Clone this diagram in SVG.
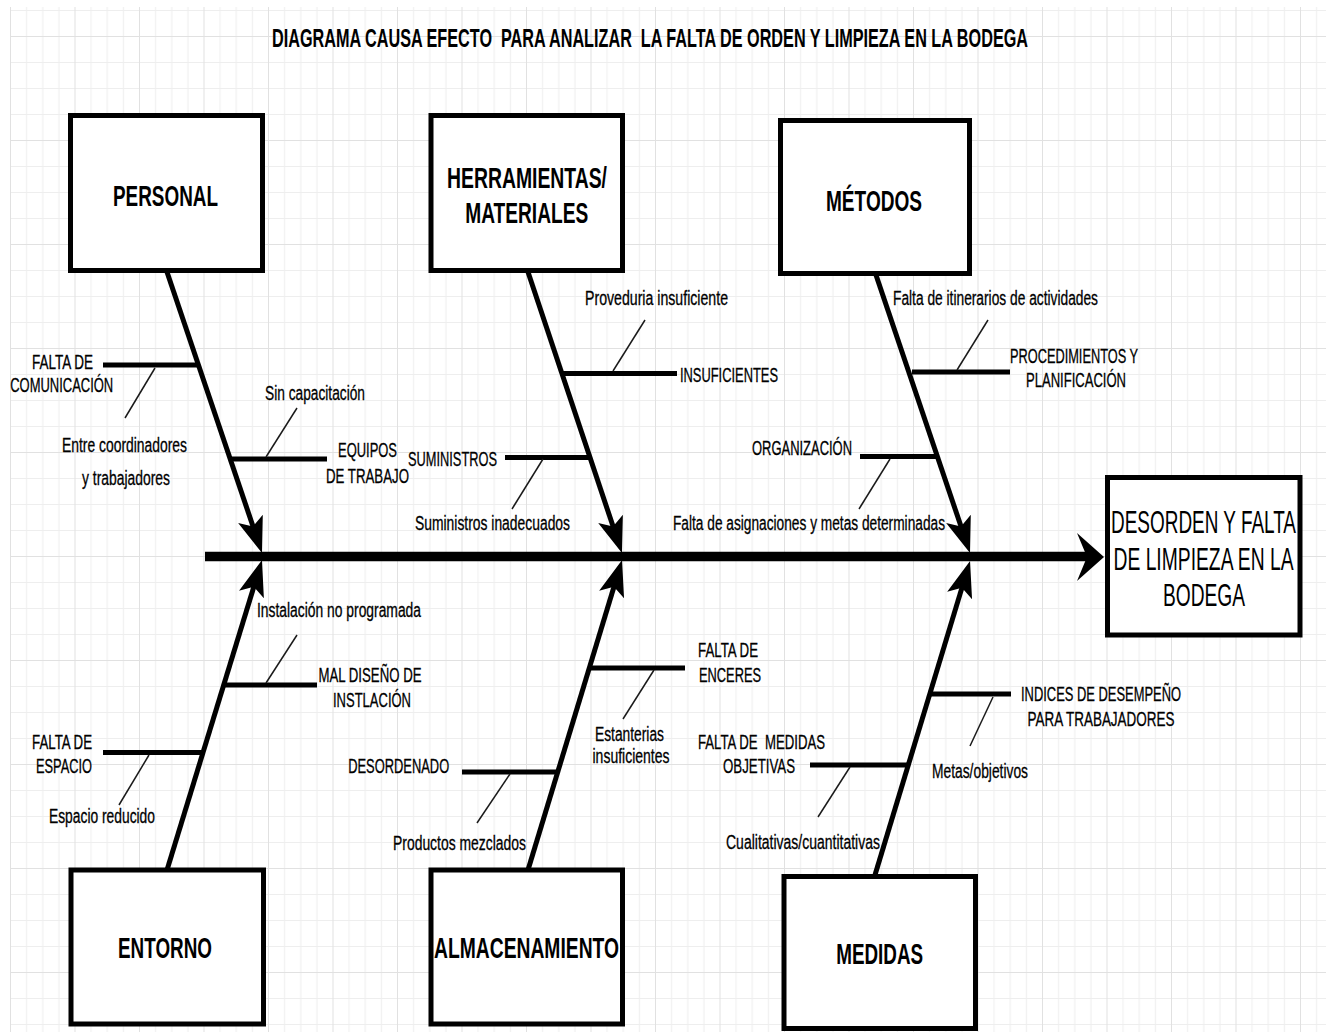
<svg xmlns="http://www.w3.org/2000/svg" width="1326" height="1032" viewBox="0 0 1326 1032">
  <style>
    .box { fill: #ffffff; stroke: #000000; stroke-width: 5; }
    .bone { fill: none; stroke: #000000; stroke-width: 5; }
    .branch { fill: none; stroke: #000000; stroke-width: 5; }
    .tick { fill: none; stroke: #1a1a1a; stroke-width: 1.5; }
    text { font-family: "Liberation Sans", Arial, sans-serif; fill: #000000; white-space: pre; }
    .lbl { font-size: 20px; stroke: #000000; stroke-width: 0.3; }
    .cat { font-size: 29px; font-weight: bold; text-anchor: middle; }
    .eff { font-size: 31px; text-anchor: middle; }
    .mid { text-anchor: middle; }
  </style>
  <defs>
    <pattern id="grid" patternUnits="userSpaceOnUse" x="10" y="36" width="64.5" height="104">
      <path d="M16.6,0V104M32.75,0V104M48.9,0V104M0,26.5H64.5M0,52.5H64.5M0,78.5H64.5" stroke="#eeeeee" stroke-width="1" fill="none"/>
      <path d="M0.5,0V104M0,0.5H64.5" stroke="#e1e1e1" stroke-width="1" fill="none"/>
    </pattern>
    <marker id="head" markerUnits="userSpaceOnUse" overflow="visible" orient="auto" refX="-15" refY="0" markerWidth="40" markerHeight="30" viewBox="-38 -15 40 30">
      <path d="M0,0 L-36,-13 L-28,0 L-36,13 Z" fill="#000000"/>
    </marker>
  </defs>

  <!-- background and grid paper -->
  <rect width="1326" height="1032" fill="#ffffff"/>
  <rect x="10" y="7" width="1316" height="1025" fill="url(#grid)"/>

  <!-- title -->
  <text id="title" x="272" y="46.5" font-size="25" font-weight="bold" textLength="756" lengthAdjust="spacingAndGlyphs" xml:space="preserve">DIAGRAMA CAUSA EFECTO  PARA ANALIZAR  LA FALTA DE ORDEN Y LIMPIEZA EN LA BODEGA</text>

  <!-- spine, bones, branches -->
  <g id="connectors">
    <line x1="205" y1="556.5" x2="1090" y2="556.5" stroke="#000000" stroke-width="9.5"/>
    <path d="M1104,557 L1077,533 L1087,557 L1077,581 Z" fill="#000000"/>

    <line class="bone" x1="167" y1="272" x2="257.2" y2="538.8" marker-end="url(#head)"/>
    <line class="bone" x1="528" y1="272" x2="617.2" y2="538.8" marker-end="url(#head)"/>
    <line class="bone" x1="876" y1="275" x2="965.2" y2="538.8" marker-end="url(#head)"/>
    <line class="bone" x1="167" y1="870" x2="257.6" y2="574.4" marker-end="url(#head)"/>
    <line class="bone" x1="528" y1="870" x2="617.7" y2="574.4" marker-end="url(#head)"/>
    <line class="bone" x1="875" y1="875" x2="965.7" y2="575.4" marker-end="url(#head)"/>

    <!-- PERSONAL branches -->
    <line class="branch" x1="103" y1="365" x2="198" y2="365"/>
    <line class="tick" x1="155" y1="368" x2="125" y2="418"/>
    <line class="branch" x1="231" y1="459" x2="327" y2="459"/>
    <line class="tick" x1="266" y1="457" x2="297" y2="408"/>

    <!-- HERRAMIENTAS branches -->
    <line class="branch" x1="563" y1="373.5" x2="677" y2="373.5"/>
    <line class="tick" x1="613" y1="371" x2="645" y2="320"/>
    <line class="branch" x1="505" y1="457.5" x2="589" y2="457.5"/>
    <line class="tick" x1="543" y1="459" x2="512" y2="509"/>

    <!-- METODOS branches -->
    <line class="branch" x1="912" y1="372" x2="1010" y2="372"/>
    <line class="tick" x1="957" y1="370" x2="988" y2="320"/>
    <line class="branch" x1="860" y1="456.5" x2="936" y2="456.5"/>
    <line class="tick" x1="890" y1="459" x2="859" y2="509"/>

    <!-- ENTORNO branches -->
    <line class="branch" x1="225" y1="685" x2="317" y2="685"/>
    <line class="tick" x1="266" y1="683" x2="297" y2="635"/>
    <line class="branch" x1="103" y1="752.5" x2="202" y2="752.5"/>
    <line class="tick" x1="149" y1="755" x2="119" y2="805"/>

    <!-- ALMACENAMIENTO branches -->
    <line class="branch" x1="589" y1="668" x2="685" y2="668"/>
    <line class="tick" x1="654" y1="670" x2="623" y2="719"/>
    <line class="branch" x1="462" y1="772" x2="558" y2="772"/>
    <line class="tick" x1="510" y1="774" x2="477" y2="823"/>

    <!-- MEDIDAS branches -->
    <line class="branch" x1="931" y1="694" x2="1011" y2="694"/>
    <line class="tick" x1="993" y1="697" x2="970" y2="746"/>
    <line class="branch" x1="810" y1="765" x2="908" y2="765"/>
    <line class="tick" x1="850" y1="767" x2="818" y2="817"/>
  </g>

  <!-- category boxes -->
  <g id="personal">
    <rect class="box" x="70.5" y="115.5" width="192" height="155"/>
    <text class="cat" x="165.5" y="206" textLength="105" lengthAdjust="spacingAndGlyphs">PERSONAL</text>
  </g>
  <g id="herramientas">
    <rect class="box" x="431" y="115.5" width="191.5" height="155"/>
    <text class="cat" x="527" y="187.7" textLength="160" lengthAdjust="spacingAndGlyphs">HERRAMIENTAS/</text>
    <text class="cat" x="526.7" y="222.7" textLength="123" lengthAdjust="spacingAndGlyphs">MATERIALES</text>
  </g>
  <g id="metodos">
    <rect class="box" x="780.5" y="120.5" width="189" height="153"/>
    <text class="cat" x="874" y="211" textLength="96" lengthAdjust="spacingAndGlyphs">MÉTODOS</text>
  </g>
  <g id="entorno">
    <rect class="box" x="71" y="870" width="192.5" height="154"/>
    <text class="cat" x="165" y="958" textLength="94" lengthAdjust="spacingAndGlyphs">ENTORNO</text>
  </g>
  <g id="almacenamiento">
    <rect class="box" x="431" y="870" width="191.5" height="154"/>
    <text class="cat" x="526.5" y="958" textLength="185" lengthAdjust="spacingAndGlyphs">ALMACENAMIENTO</text>
  </g>
  <g id="medidas">
    <rect class="box" x="784" y="876.5" width="191.5" height="152"/>
    <text class="cat" x="879.7" y="964" textLength="87" lengthAdjust="spacingAndGlyphs">MEDIDAS</text>
  </g>

  <!-- effect box -->
  <g id="efecto">
    <rect class="box" x="1107.5" y="477.5" width="192.5" height="157.5"/>
    <text class="eff" x="1203.5" y="532.7" textLength="185" lengthAdjust="spacingAndGlyphs">DESORDEN Y FALTA</text>
    <text class="eff" x="1203.5" y="570" textLength="180" lengthAdjust="spacingAndGlyphs">DE LIMPIEZA EN LA</text>
    <text class="eff" x="1204" y="605.7" textLength="82" lengthAdjust="spacingAndGlyphs">BODEGA</text>
  </g>

  <!-- cause labels -->
  <g id="labels-personal" class="lbl">
    <text class="mid" x="62.5" y="369" textLength="61" lengthAdjust="spacingAndGlyphs">FALTA DE</text>
    <text class="mid" x="61.7" y="392" textLength="103" lengthAdjust="spacingAndGlyphs">COMUNICACIÓN</text>
    <text class="mid" x="124.5" y="451.5" textLength="125" lengthAdjust="spacingAndGlyphs">Entre coordinadores</text>
    <text class="mid" x="126" y="485" textLength="88" lengthAdjust="spacingAndGlyphs">y trabajadores</text>
    <text class="mid" x="315" y="400" textLength="100" lengthAdjust="spacingAndGlyphs">Sin capacitación</text>
    <text class="mid" x="367.5" y="457" textLength="59" lengthAdjust="spacingAndGlyphs">EQUIPOS</text>
    <text class="mid" x="367.5" y="483" textLength="83" lengthAdjust="spacingAndGlyphs">DE TRABAJO</text>
  </g>
  <g id="labels-herramientas" class="lbl">
    <text class="mid" x="452.5" y="466" textLength="89" lengthAdjust="spacingAndGlyphs">SUMINISTROS</text>
    <text class="mid" x="492.5" y="530" textLength="155" lengthAdjust="spacingAndGlyphs">Suministros inadecuados</text>
    <text class="mid" x="656.5" y="305" textLength="143" lengthAdjust="spacingAndGlyphs">Proveduria insuficiente</text>
    <text x="680" y="381.7" textLength="98" lengthAdjust="spacingAndGlyphs">INSUFICIENTES</text>
  </g>
  <g id="labels-metodos" class="lbl">
    <text x="893" y="305" textLength="205" lengthAdjust="spacingAndGlyphs">Falta de itinerarios de actividades</text>
    <text class="mid" x="1074" y="363" textLength="128" lengthAdjust="spacingAndGlyphs">PROCEDIMIENTOS Y</text>
    <text class="mid" x="1076" y="386.7" textLength="100" lengthAdjust="spacingAndGlyphs">PLANIFICACIÓN</text>
    <text class="mid" x="802" y="455" textLength="100" lengthAdjust="spacingAndGlyphs">ORGANIZACIÓN</text>
    <text x="673" y="530" textLength="272" lengthAdjust="spacingAndGlyphs">Falta de asignaciones y metas determinadas</text>
  </g>
  <g id="labels-entorno" class="lbl">
    <text x="257" y="617" textLength="164" lengthAdjust="spacingAndGlyphs">Instalación no programada</text>
    <text class="mid" x="370" y="681.7" textLength="103" lengthAdjust="spacingAndGlyphs">MAL DISEÑO DE</text>
    <text class="mid" x="372" y="707.3" textLength="78" lengthAdjust="spacingAndGlyphs">INSTLACIÓN</text>
    <text class="mid" x="62" y="749" textLength="60" lengthAdjust="spacingAndGlyphs">FALTA DE</text>
    <text class="mid" x="64" y="772.7" textLength="56" lengthAdjust="spacingAndGlyphs">ESPACIO</text>
    <text class="mid" x="102" y="823" textLength="106" lengthAdjust="spacingAndGlyphs">Espacio reducido</text>
  </g>
  <g id="labels-almacenamiento" class="lbl">
    <text class="mid" x="398.7" y="772.7" textLength="101" lengthAdjust="spacingAndGlyphs">DESORDENADO</text>
    <text class="mid" x="459.5" y="850" textLength="133" lengthAdjust="spacingAndGlyphs">Productos mezclados</text>
    <text class="mid" x="728" y="656.7" textLength="60" lengthAdjust="spacingAndGlyphs">FALTA DE</text>
    <text class="mid" x="730" y="681.7" textLength="62" lengthAdjust="spacingAndGlyphs">ENCERES</text>
    <text class="mid" x="629.5" y="740.7" textLength="69" lengthAdjust="spacingAndGlyphs">Estanterias</text>
    <text class="mid" x="631" y="763" textLength="77" lengthAdjust="spacingAndGlyphs">insuficientes</text>
  </g>
  <g id="labels-medidas" class="lbl">
    <text class="mid" x="761.5" y="749" textLength="127" lengthAdjust="spacingAndGlyphs" xml:space="preserve">FALTA DE  MEDIDAS</text>
    <text class="mid" x="759" y="772.7" textLength="72" lengthAdjust="spacingAndGlyphs">OBJETIVAS</text>
    <text class="mid" x="803" y="849" textLength="154" lengthAdjust="spacingAndGlyphs">Cualitativas/cuantitativas</text>
    <text class="mid" x="1101" y="700.5" textLength="160" lengthAdjust="spacingAndGlyphs">INDICES DE DESEMPEÑO</text>
    <text class="mid" x="1101" y="725.5" textLength="147" lengthAdjust="spacingAndGlyphs">PARA TRABAJADORES</text>
    <text class="mid" x="980" y="778" textLength="96" lengthAdjust="spacingAndGlyphs">Metas/objetivos</text>
  </g>
</svg>
